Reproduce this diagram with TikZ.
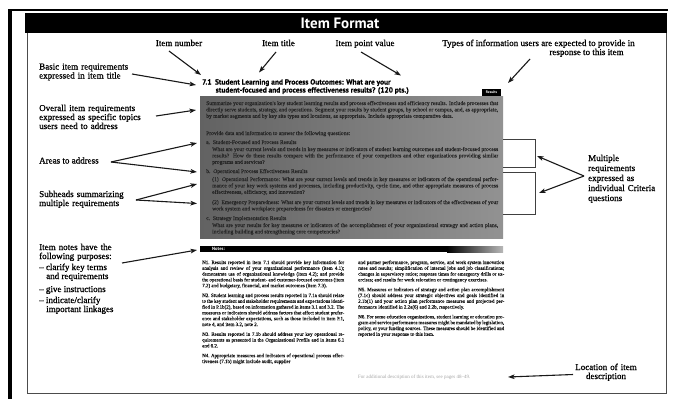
\documentclass[tikz,border=0pt]{standalone}
\usepackage{fontspec}
\setmainfont{Liberation Serif}
\newfontfamily\lblfont{Liberation Serif}[FakeBold=0.9]
\newfontfamily\smfont{Liberation Serif}[FakeBold=0.6]
\newfontfamily\hdrfont{PT Sans}
\newfontfamily\ttlfont{PT Sans}[FakeBold=0.6]
\usetikzlibrary{arrows.meta}
\definecolor{grayL}{RGB}{98,98,98}
\definecolor{grayR}{RGB}{146,146,146}
\definecolor{gtext}{RGB}{38,38,38}
\begin{document}
\begin{tikzpicture}[x=1pt,y=-1pt,
  lbl/.style={font=\lblfont\fontsize{9}{9}\selectfont, inner sep=0pt, anchor=base west, text=black},
  lblml/.style={lbl, text width=#1, align=left},
  arr/.style={line width=1.1pt, draw=black!90, -{Stealth[length=6.5pt,width=4.6pt,inset=1.5pt]}},
  gtxt/.style={font=\smfont\fontsize{5.6}{6.4}\selectfont, text=gtext, inner sep=0pt, anchor=base west, align=justify, text width=#1},
  ntxt/.style={font=\smfont\fontsize{5}{5.8}\selectfont, inner sep=0pt, anchor=base west, align=justify, text width=#1, text=black!90},
  ttl/.style={anchor=base west, inner sep=0pt, font=\ttlfont\bfseries\fontsize{7.4}{7.4}\selectfont},
  boxln/.style={draw=black!75, line width=0.9pt}]
\useasboundingbox (0,0) rectangle (673,399);
\fill[white] (0,0) rectangle (673,399);
% ---------- frame ----------
\fill[black] (7.5,9.5) rectangle (11.5,399);
\draw[line width=1.4pt] (8,10) -- (668,10);
\fill[black] (25,13) rectangle (666.5,33);
\draw[line width=0.8pt, black!70] (27,33) -- (27,393) -- (666,393) -- (666,33);
\node[font=\hdrfont\bfseries\fontsize{15}{15}\selectfont, text=white, inner sep=0pt] (hdr) at (340,23) {Item Format};
% ---------- item heading ----------
\node[ttl] (t1) at (202,84.5) {7.1\hspace{3.5pt}Student Learning and Process Outcomes: What are your};
\node[ttl] (t2) at (215.5,92.5) {student-focused and process effectiveness results? (120 pts.)};
\fill[black] (482,88.5) rectangle (501,95.5);
\node[text=white, font=\hdrfont\bfseries\fontsize{3.6}{3.6}\selectfont, inner sep=0pt] (res) at (491.5,92) {Results};
% ---------- gray item box ----------
\shade[left color=grayL, right color=grayR] (200,96) rectangle (503,238);
\node[gtxt=292pt] (g1) at (206,105) {Summarize your organization's key student learning results and process effectiveness and efficiency results. Include processes that directly serve students, strategy, and operations. Segment your results by student groups, by school or campus, and, as appropriate, by market segments and by key site types and locations, as appropriate. Include appropriate comparative data.};
\node[gtxt=292pt] (g2) at (206,135) {Provide data and information to answer the following questions:};
\node[gtxt=292pt] (g3) at (206,144) {a.\ \ Student-Focused and Process Results};
\node[gtxt=286pt] (g4) at (212,151) {What are your current levels and trends in key measures or indicators of student learning outcomes and student-focused process results? How do these results compare with the performance of your competitors and other organizations providing similar programs and services?};
\node[gtxt=292pt] (g5) at (206,173) {b.\ \ Operational Process Effectiveness Results};
\node[gtxt=286pt] (g6) at (212,181) {\hangindent=11pt\hangafter=1 (1)\ \ Operational Performance: What are your current levels and trends in key measures or indicators of the operational performance of your key work systems and processes, including productivity, cycle time, and other appropriate measures of process effectiveness, efficiency, and innovation?};
\node[gtxt=286pt] (g7) at (212,204) {\hangindent=11pt\hangafter=1 (2)\ \ Emergency Preparedness: What are your current levels and trends in key measures or indicators of the effectiveness of your work system and workplace preparedness for disasters or emergencies?};
\node[gtxt=292pt] (g8) at (206,220) {c.\ \ Strategy Implementation Results};
\node[gtxt=286pt] (g9) at (212,227) {What are your results for key measures or indicators of the accomplishment of your organizational strategy and action plans, including building and strengthening core competencies?};
% ---------- criteria boxes ----------
\draw[boxln] (503,139) -- (535,139) -- (535,167) -- (503,167);
\draw[boxln] (503,172) -- (535,172) -- (535,214) -- (503,214);
% ---------- notes ----------
\fill[black] (200,246) rectangle (447,252);
\shade[left color=black, right color=black!28] (447,246) rectangle (503,252);
\node[anchor=base west, inner sep=0pt, text=white, font=\hdrfont\bfseries\fontsize{4.6}{4.6}\selectfont] (nts) at (212,250.8) {Notes:};
\node[ntxt=142pt] (ncol1) at (202,264) {\emergencystretch=8pt\setlength{\parskip}{4pt}%
N1.\ Results reported in item 7.1 should provide key information for analysis and review of your organizational performance (item 4.1); demonstrate use of organizational knowledge (item 4.2); and provide the operational basis for student- and customer-focused outcomes (item 7.2) and budgetary, financial, and market outcomes (item 7.3).\par
N2.\ Student learning and process results reported in 7.1a should relate to the key student and stakeholder requirements and expectations identified in P.1b(2), based on information gathered in items 3.1 and 3.2. The measures or indicators should address factors that affect student preference and stakeholder expectations, such as those included in item P.1, note 4, and item 3.2, note 2.\par
N3.\ Results reported in 7.1b should address your key operational requirements as presented in the Organizational Profile and in items 6.1 and 6.2.\par
N4.\ Appropriate measures and indicators of operational process effectiveness (7.1b) might include audit, supplier};
\node[ntxt=146pt] (ncol2) at (358,264) {\emergencystretch=8pt\setlength{\parskip}{4pt}%
and partner performance, program, service, and work system innovation rates and results; simplification of internal jobs and job classifications; changes in supervisory ratios; response times for emergency drills or exercises; and results for work relocation or contingency exercises.\par
N5.\ Measures or indicators of strategy and action plan accomplishment (7.1c) should address your strategic objectives and goals identified in 2.1b(1) and your action plan performance measures and projected performance identified in 2.2a(6) and 2.2b, respectively.\par
N6.\ For some education organizations, student learning or education program and service performance measures might be mandated by legislation, policy, or your funding sources. These measures should be identified and reported in your response to this item.};
\node[anchor=base west, inner sep=0pt, font=\fontsize{5}{5.8}\selectfont, text=black!35] (addl) at (358,378) {For additional description of this item, see pages 48--49.};
% ---------- labels ----------
\node[lbl, anchor=base] (inum) at (179,46) {Item number};
\node[lbl, anchor=base] (ititle) at (278.5,46) {Item title};
\node[lbl, anchor=base] (ipts) at (365,46) {Item point value};
\node[lbl, anchor=base] (types1) at (538.5,46) {Types of information users are expected to provide in};
\node[lbl, anchor=base] (types2) at (586.5,55) {response to this item};
\node[lblml=110pt] (basic) at (39,69.5) {Basic item requirements\\expressed in item title};
\node[lblml=120pt] (overall) at (39,111) {Overall item requirements\\expressed as specific topics\\users need to address};
\node[lbl] (areas) at (39,163.5) {Areas to address};
\node[lblml=110pt] (subh) at (39,197) {Subheads summarizing\\multiple requirements};
\node[lblml=100pt] (inotes) at (39,250) {Item notes have the\\following purposes:};
\node[lbl] (p1a) at (39,270) {– clarify key terms};
\node[lbl] (p1b) at (46,279) {and requirements};
\node[lbl] (p2) at (39,292) {– give instructions};
\node[lbl] (p3a) at (39,303) {– indicate/clarify};
\node[lbl] (p3b) at (46,312) {important linkages};
\node[lblml=80pt, font=\lblfont\fontsize{9}{10}\selectfont] (multi) at (588,161) {Multiple\\requirements\\expressed as\\individual Criteria\\questions};
\node[lbl, anchor=base, text width=80pt, align=center] (loc) at (606,370) {Location of item\\description};
% ---------- arrow end points ----------
\coordinate (inumA) at (169,51);   \coordinate (inumB) at (201,75);
\coordinate (ititA) at (276,52);   \coordinate (ititB) at (259,72.5);
\coordinate (iptsA) at (361,52);   \coordinate (iptsB) at (401,75.5);
\coordinate (typA) at (530,59);    \coordinate (typB) at (508,83);
\coordinate (basA) at (132,74);    \coordinate (basB) at (196,85);
\coordinate (ovA) at (156,116);    \coordinate (ovB) at (196,110);
\coordinate (arA) at (111,162);    \coordinate (arB1) at (197,143);  \coordinate (arB2) at (197,172);
\coordinate (suA) at (136,200);    \coordinate (suB1) at (197,184);  \coordinate (suB2) at (197,203.5);
\coordinate (inA) at (122,263);    \coordinate (inB) at (197,250);
\coordinate (muA) at (584,176);    \coordinate (muB1) at (537,156);  \coordinate (muB2) at (539,193);
\coordinate (loA) at (573,374.5);  \coordinate (loB) at (508,377);
% ---------- arrows ----------
\draw[arr] (inumA) -- (inumB);
\draw[arr] (ititA) -- (ititB);
\draw[arr] (iptsA) -- (iptsB);
\draw[arr] (typA) -- (typB);
\draw[arr] (basA) -- (basB);
\draw[arr] (ovA) -- (ovB);
\draw[arr] (arA) -- (arB1);
\draw[arr] (arA) -- (arB2);
\draw[arr] (suA) -- (suB1);
\draw[arr] (suA) -- (suB2);
\draw[arr] (inA) -- (inB);
\draw[arr] (muA) -- (muB1);
\draw[arr] (muA) -- (muB2);
\draw[arr] (loA) -- (loB);
\end{tikzpicture}
\end{document}
